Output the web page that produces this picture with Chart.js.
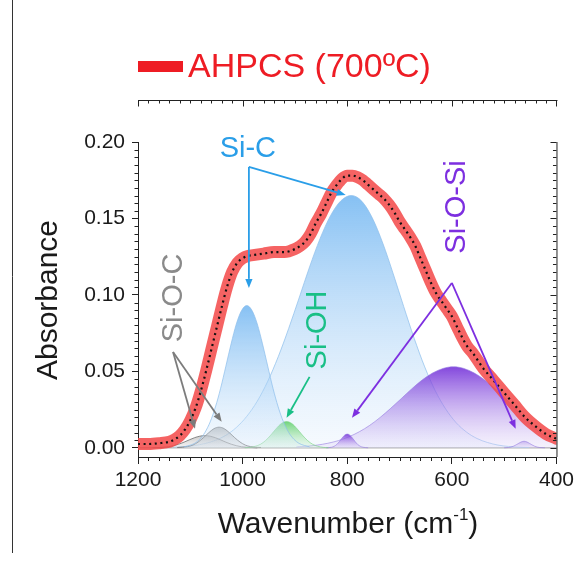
<!DOCTYPE html>
<html lang="en">
<head>
<meta charset="UTF-8">
<title>AHPCS (700ºC) FTIR</title>
<script src="https://cdn.jsdelivr.net/npm/chart.js"></script>
<style>
  html, body { margin: 0; padding: 0; background: #fff; }
  #wrap { width: 578px; height: 561px; }
</style>
</head>
<body>
<div id="wrap"><canvas id="ftir" width="578" height="561"></canvas></div>
<script>
// measured spectrum
const specWn = [1200, 1180, 1160, 1140, 1130, 1120, 1110, 1100, 1090, 1080,
                1070, 1060, 1050, 1040, 1030, 1020, 1010, 1000, 990, 980,
                960, 940, 920, 900, 890, 880, 870, 860, 850, 840,
                830, 820, 810, 800, 790, 780, 770, 760, 750, 740,
                730, 720, 710, 700, 690, 680, 670, 660, 650, 640,
                630, 620, 610, 600, 590, 580, 570, 560, 540, 520,
                500, 480, 460, 440, 420, 400];
const specAbs = [0.0025, 0.0025, 0.003, 0.004, 0.0055, 0.008, 0.012, 0.018, 0.026, 0.037,
                 0.050, 0.064, 0.078, 0.092, 0.105, 0.115, 0.121, 0.124, 0.1255, 0.126,
                 0.127, 0.128, 0.128, 0.130, 0.132, 0.135, 0.140, 0.147, 0.153, 0.160,
                 0.167, 0.172, 0.176, 0.178, 0.178, 0.177, 0.175, 0.172, 0.169, 0.166,
                 0.163, 0.159, 0.154, 0.148, 0.143, 0.138, 0.132, 0.124, 0.116, 0.108,
                 0.101, 0.096, 0.091, 0.086, 0.079, 0.072, 0.066, 0.062, 0.052, 0.044,
                 0.036, 0.028, 0.020, 0.014, 0.009, 0.006];

// fitted components
const sicAWn  = [1112, 1092, 1082, 1072, 1062, 1052, 1042, 1032, 1022, 1012, 1002, 992,
                 982, 972, 962, 952, 942, 932, 922, 912, 902, 892, 872];
const sicAAbs = [0.0006, 0.0029, 0.0056, 0.0101, 0.017, 0.0267, 0.039, 0.0534, 0.068, 0.081, 0.0898, 0.093,
                 0.0898, 0.081, 0.068, 0.0534, 0.039, 0.0267, 0.017, 0.0101, 0.0056, 0.0029, 0.0006];

const sicBWn  = [1132, 1112, 1092, 1072, 1052, 1032, 1012, 992, 972, 952, 932, 912, 892, 872, 852, 832, 812, 792,
                 772, 752, 732, 712, 692, 672, 652, 632, 612, 592, 572, 552, 532, 512, 492, 472, 452];
const sicBAbs = [0.0004, 0.0008, 0.0015, 0.0028, 0.0049, 0.0082, 0.0133, 0.0206, 0.0305, 0.0435, 0.0595, 0.078, 0.098, 0.1183, 0.1368, 0.1518, 0.1616, 0.165,
                 0.1612, 0.1503, 0.1338, 0.1137, 0.0923, 0.0716, 0.053, 0.0375, 0.0255, 0.0165, 0.0103, 0.0061, 0.0035, 0.0018, 0.0009, 0.0004, 0.0002];

const siocAWn  = [1172, 1152, 1142, 1132, 1122, 1112, 1102, 1092, 1082, 1072, 1062, 1052,
                  1042, 1032, 1022, 1012, 1002, 992, 972];
const siocAAbs = [0, 0.0004, 0.0007, 0.0014, 0.0024, 0.0037, 0.0052, 0.0066, 0.0076, 0.008, 0.0076, 0.0066,
                  0.0052, 0.0037, 0.0024, 0.0014, 0.0007, 0.0004, 0];

const siocBWn  = [1125, 1105, 1095, 1085, 1075, 1065, 1055, 1045, 1035, 1025, 1015, 1005, 995, 985, 965];
const siocBAbs = [0.0002, 0.0008, 0.0018, 0.0038, 0.0066, 0.0098, 0.0125, 0.0135, 0.0125, 0.0098, 0.0066, 0.0038, 0.0018, 0.0008, 0.0002];

const siohWn  = [996, 986, 976, 966, 956, 946, 936, 926, 916, 906, 896, 886, 876, 866, 856, 846, 836];
const siohAbs = [0.0001, 0.0003, 0.001, 0.0023, 0.0048, 0.0084, 0.0125, 0.0159, 0.0172, 0.0159, 0.0125, 0.0084, 0.0048, 0.0023, 0.001, 0.0003, 0.0001];

const siosiAWn  = [840, 830, 825, 820, 815, 810, 805, 800, 795, 790, 785, 780, 775, 770, 760];
const siosiAAbs = [0, 0.0004, 0.001, 0.0022, 0.0041, 0.0064, 0.0083, 0.009, 0.0083, 0.0064, 0.0041, 0.0022, 0.001, 0.0004, 0];

const siosiBWn  = [897, 877, 857, 837, 817, 797, 777, 757, 737, 717, 697, 677, 657, 637, 617, 597,
                   577, 557, 537, 517, 497, 477, 457, 437, 417, 400];
const siosiBAbs = [0.0006, 0.001, 0.0018, 0.003, 0.0047, 0.0072, 0.0105, 0.0147, 0.0199, 0.0258, 0.0321, 0.0385, 0.0443, 0.0489, 0.0519, 0.053,
                   0.0519, 0.0489, 0.0443, 0.0385, 0.0321, 0.025, 0.018, 0.0115, 0.0065, 0.004];

const siosiCWn  = [500, 492, 487, 482, 477, 472, 467, 462, 457, 452, 447, 442, 437, 432, 422];
const siosiCAbs = [0, 0.0002, 0.0005, 0.0011, 0.002, 0.003, 0.0039, 0.0043, 0.0039, 0.003, 0.002, 0.0011, 0.0005, 0.0002, 0];

const xTicks = [1200, 1000, 800, 600, 400];
const yTicks = [0, 0.05, 0.10, 0.15, 0.20];

// band labels: [text, wavenumber, absorbance, colour, rotated]
const bandLabels = [
  ['Si-C',    990, 0.190,  '#2a9ee8', false],
  ['Si-O-C',  1116, 0.098, '#8a8a8a', true],
  ['Si-OH',   841, 0.0771, '#19bf86', true],
  ['Si-O-Si', 574, 0.1575, '#7d2fe0', true]
];
// arrows: [from wn, from abs, to wn, to abs, colour]
const bandArrows = [
  [988, 0.1837, 803, 0.1654, '#2a9ee8'],
  [988, 0.1837, 988, 0.1046, '#2a9ee8'],
  [1133, 0.0627, 1091, 0.0124, '#7c7c7c'],
  [1133, 0.0627, 1040, 0.0170, '#7c7c7c'],
  [872, 0.0464, 916, 0.0196, '#19bf86'],
  [600, 0.1078, 791, 0.0196, '#7d2fe0'],
  [600, 0.1078, 478, 0.0124, '#7d2fe0']
];

const FONT = "'Liberation Sans', Arial, sans-serif";
const pts = (xs, ys) => xs.map((v, i) => ({ x: v, y: ys[i] }));

function peakFill(top, bottom) {
  return ctx => {
    const chart = ctx.chart;
    if (!chart.chartArea) return top;
    const ys = ctx.dataset.data.map(d => d.y);
    const y0 = chart.scales.y.getPixelForValue(Math.max(...ys));
    const y1 = chart.scales.y.getPixelForValue(0);
    const g = chart.ctx.createLinearGradient(0, y0, 0, y1 + 1);
    g.addColorStop(0, top);
    g.addColorStop(1, bottom);
    return g;
  };
}

function band(xs, ys, top, bottom, edge) {
  return {
    data: pts(xs, ys),
    borderColor: edge,
    borderWidth: 1,
    backgroundColor: peakFill(top, bottom),
    fill: 'origin',
    pointRadius: 0,
    cubicInterpolationMode: 'monotone'
  };
}

const blueTop = 'rgba(100,175,240,0.78)', blueBot = 'rgba(225,238,252,0.30)', blueEdge = 'rgba(140,190,235,0.7)';
const purpTop = 'rgba(110,40,215,0.85)', purpBot = 'rgba(225,215,248,0.30)', purpEdge = 'rgba(150,125,225,0.6)';

function arrow(ctx, x1, y1, x2, y2, color) {
  const a = Math.atan2(y2 - y1, x2 - x1);
  const L = 9, W = 3.6;
  const bx = x2 - L * Math.cos(a), by = y2 - L * Math.sin(a);
  ctx.strokeStyle = color;
  ctx.lineWidth = 1.8;
  ctx.beginPath(); ctx.moveTo(x1, y1); ctx.lineTo(bx, by); ctx.stroke();
  ctx.fillStyle = color;
  ctx.beginPath();
  ctx.moveTo(x2, y2);
  ctx.lineTo(bx + W * Math.sin(a), by - W * Math.cos(a));
  ctx.lineTo(bx - W * Math.sin(a), by + W * Math.cos(a));
  ctx.closePath(); ctx.fill();
}

const decor = {
  id: 'decor',
  beforeDatasetsDraw(chart) {
    const { ctx, chartArea: a, scales: { y } } = chart;
    const y0 = y.getPixelForValue(0);
    ctx.save();
    ctx.strokeStyle = '#b5b5b5';
    ctx.lineWidth = 1.5;
    ctx.beginPath(); ctx.moveTo(a.left, y0); ctx.lineTo(a.right, y0); ctx.stroke();
    ctx.restore();
  },
  afterDraw(chart) {
    const { ctx, chartArea: a, scales: { x, y } } = chart;
    ctx.save();
    ctx.strokeStyle = '#222';
    ctx.lineWidth = 1;

    // minor ticks on left and right, right axis line
    ctx.beginPath();
    ctx.moveTo(a.right + 0.5, a.top); ctx.lineTo(a.right + 0.5, a.bottom);
    for (let v = 0; v <= 0.2001; v += 0.005) {
      const p = Math.round(y.getPixelForValue(v)) + 0.5;
      const major = Math.abs(v / 0.05 - Math.round(v / 0.05)) < 1e-6;
      if (!major) { ctx.moveTo(a.left, p); ctx.lineTo(a.left - 3.5, p); }
      ctx.moveTo(a.right, p); ctx.lineTo(a.right - (major ? 6 : 3.5), p);
    }
    // bottom minor ticks and the detached top axis
    const topY = a.top - 42;
    ctx.moveTo(a.left, topY + 0.5); ctx.lineTo(a.right + 1, topY + 0.5);
    for (let v = 400; v <= 1200; v += 20) {
      const p = Math.round(x.getPixelForValue(v)) + 0.5;
      const major = v % 200 === 0;
      if (!major) { ctx.moveTo(p, a.bottom); ctx.lineTo(p, a.bottom + 4); }
      ctx.moveTo(p, topY); ctx.lineTo(p, topY + (major ? 6.5 : 3.5));
    }
    ctx.stroke();

    // left separator
    ctx.strokeStyle = '#333';
    ctx.beginPath(); ctx.moveTo(12.5, 0); ctx.lineTo(12.5, 553); ctx.stroke();

    // legend
    ctx.fillStyle = '#ee1c24';
    ctx.fillRect(138, 61, 45, 11);
    ctx.font = `34px ${FONT}`;
    ctx.textBaseline = 'alphabetic';
    ctx.textAlign = 'left';
    ctx.fillText('AHPCS (700ºC)', 188, 77);

    // axis titles
    ctx.fillStyle = '#1a1a1a';
    ctx.font = `30px ${FONT}`;
    const t1 = 'Wavenumber (cm', t2 = '-1', t3 = ')';
    const w1 = ctx.measureText(t1).width, w3 = ctx.measureText(t3).width;
    ctx.font = `17px ${FONT}`;
    const w2 = ctx.measureText(t2).width;
    let sx = 348 - (w1 + w2 + w3) / 2;
    ctx.font = `30px ${FONT}`;
    ctx.fillText(t1, sx, 533);
    ctx.font = `17px ${FONT}`;
    ctx.fillText(t2, sx + w1, 520);
    ctx.font = `30px ${FONT}`;
    ctx.fillText(t3, sx + w1 + w2, 533);

    ctx.save();
    ctx.translate(57, 300);
    ctx.rotate(-Math.PI / 2);
    ctx.textAlign = 'center';
    ctx.fillText('Absorbance', 0, 0);
    ctx.restore();

    // band labels and arrows
    ctx.font = `29px ${FONT}`;
    bandLabels.forEach(([txt, wn, ab, col, rot]) => {
      const px = x.getPixelForValue(wn), py = y.getPixelForValue(ab);
      ctx.fillStyle = col;
      ctx.save();
      ctx.translate(px, py);
      if (rot) ctx.rotate(-Math.PI / 2);
      ctx.textAlign = 'center';
      ctx.fillText(txt, 0, 0);
      ctx.restore();
    });
    bandArrows.forEach(([w1, a1, w2, a2, col]) => {
      arrow(ctx, x.getPixelForValue(w1), y.getPixelForValue(a1),
                 x.getPixelForValue(w2), y.getPixelForValue(a2), col);
    });
    ctx.restore();
  }
};

new Chart(document.getElementById('ftir'), {
  type: 'line',
  data: {
    datasets: [
      { data: pts(specWn, specAbs), borderColor: '#111', borderWidth: 2.2, borderDash: [2, 3.6],
        pointRadius: 0, fill: false, cubicInterpolationMode: 'monotone' },
      { data: pts(specWn, specAbs), borderColor: 'rgba(243,72,72,0.85)', borderWidth: 12,
        borderCapStyle: 'round', borderJoinStyle: 'round',
        pointRadius: 0, fill: false, cubicInterpolationMode: 'monotone' },
      band(sicAWn, sicAAbs, blueTop, blueBot, blueEdge),
      band(siohWn, siohAbs, 'rgba(70,200,80,0.75)', 'rgba(215,245,215,0.30)', 'rgba(120,210,130,0.6)'),
      band(siosiAWn, siosiAAbs, purpTop, purpBot, purpEdge),
      band(siosiCWn, siosiCAbs, 'rgba(170,140,230,0.6)', 'rgba(235,228,250,0.3)', purpEdge),
      band(siocBWn, siocBAbs, 'rgba(140,140,140,0.6)', 'rgba(220,220,220,0.3)', 'rgba(110,110,110,0.8)'),
      band(siocAWn, siocAAbs, 'rgba(150,150,150,0.5)', 'rgba(225,225,225,0.3)', 'rgba(110,110,110,0.8)'),
      band(siosiBWn, siosiBAbs, purpTop, purpBot, purpEdge),
      band(sicBWn, sicBAbs, blueTop, blueBot, blueEdge)
    ]
  },
  options: {
    responsive: false,
    animation: false,
    layout: { padding: { top: 142, right: 21, left: 0, bottom: 0 } },
    plugins: { legend: { display: false }, tooltip: { enabled: false } },
    scales: {
      x: {
        type: 'linear', reverse: true, min: 400, max: 1200,
        afterFit: s => { s.height = 104; },
        afterBuildTicks: s => { s.ticks = xTicks.map(v => ({ value: v })); },
        ticks: { font: { family: FONT, size: 21 }, color: '#1a1a1a', padding: 4, maxRotation: 0, autoSkip: false,
                 callback: v => String(v) },
        grid: { drawOnChartArea: false, tickLength: 7, color: '#222' },
        border: { color: '#222', width: 1 }
      },
      y: {
        min: -0.006, max: 0.2,
        afterFit: s => { s.width = 138; },
        afterBuildTicks: s => { s.ticks = yTicks.map(v => ({ value: v })); },
        ticks: { font: { family: FONT, size: 21 }, color: '#1a1a1a', padding: 7, callback: v => v.toFixed(2) },
        grid: { drawOnChartArea: false, tickLength: 6, color: '#222' },
        border: { color: '#222', width: 1 }
      }
    }
  },
  plugins: [decor]
});
</script>
</body>
</html>
